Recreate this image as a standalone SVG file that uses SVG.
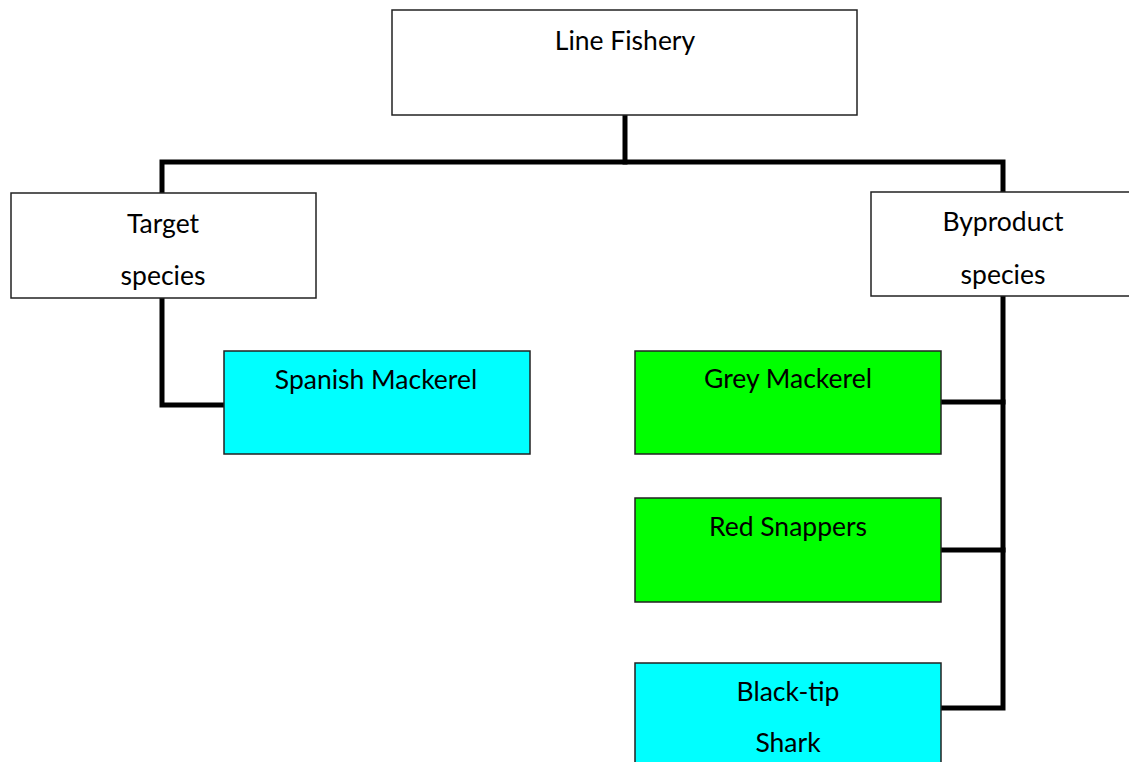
<svg xmlns="http://www.w3.org/2000/svg" width="1129" height="762" viewBox="0 0 1129 762">
  <style>
    .box { stroke: #222; stroke-width: 1.5; }
    .plain { fill: #ffffff; }
    .cyan { fill: #00ffff; }
    .green { fill: #00ff00; }
    .label { font-family: Lato, "Liberation Sans", sans-serif; font-size: 26.5px; fill: #000; text-anchor: middle; }
    .wire { fill: none; stroke: #000; stroke-width: 5; stroke-linejoin: miter; stroke-linecap: square; }
  </style>
  <rect width="1129" height="762" fill="#ffffff"/>

  <g id="connectors">
    <path class="wire" d="M625,116 V162"/>
    <path class="wire" d="M162,192 V162 H1003 V192"/>
    <path class="wire" d="M162,299 V405 H222"/>
    <path class="wire" d="M1003,297 V708 H942"/>
    <path class="wire" d="M942,402 H1003"/>
    <path class="wire" d="M942,550 H1003"/>
  </g>

  <g id="line-fishery">
    <rect class="box plain" x="392" y="10" width="465" height="105"/>
    <text class="label" x="625" y="50">Line Fishery</text>
  </g>

  <g id="target-species">
    <rect class="box plain" x="11" y="193" width="305" height="105"/>
    <text class="label" x="163" y="233">Target</text>
    <text class="label" x="163" y="285">species</text>
  </g>

  <g id="byproduct-species">
    <rect class="box plain" x="871" y="192" width="270" height="104"/>
    <text class="label" x="1003" y="231">Byproduct</text>
    <text class="label" x="1003" y="284">species</text>
  </g>

  <g id="spanish-mackerel">
    <rect class="box cyan" x="224" y="351" width="306" height="103"/>
    <text class="label" x="376" y="389">Spanish Mackerel</text>
  </g>

  <g id="grey-mackerel">
    <rect class="box green" x="635" y="351" width="306" height="103"/>
    <text class="label" x="788" y="388">Grey Mackerel</text>
  </g>

  <g id="red-snappers">
    <rect class="box green" x="635" y="498" width="306" height="104"/>
    <text class="label" x="788" y="536">Red Snappers</text>
  </g>

  <g id="black-tip-shark">
    <rect class="box cyan" x="635" y="663" width="306" height="110"/>
    <text class="label" x="788" y="701">Black-tip</text>
    <text class="label" x="788" y="752">Shark</text>
  </g>
</svg>
